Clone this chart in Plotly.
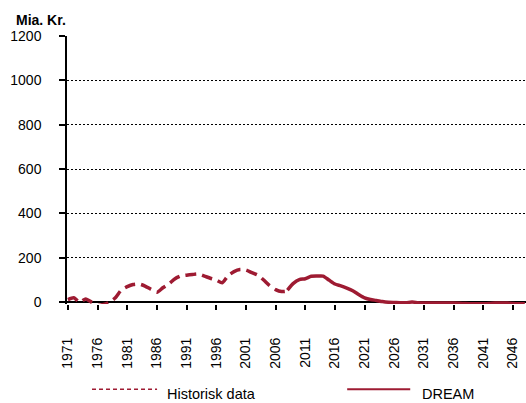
import plotly.graph_objects as go

# Historical series (dashed) and DREAM projection (solid), billions DKK
hist_years = list(range(1971, 2009))
hist_vals = [12, 20, 0, 15, 0, -15, -10, 0, 20, 55,
             70, 80, 82, 73, 58, 45, 65, 82, 105, 118,
             122, 125, 127, 118, 108, 100, 88, 120, 138, 147,
             145, 133, 122, 100, 75, 57, 48, 50]

dream_years = list(range(2008, 2049))
dream_vals = [55, 85, 102, 106, 117, 118, 118, 100, 82, 74,
              64, 52, 35, 20, 12, 8, 3, 0, -1, -2,
              -2, 1, -2, -3, -3, -3, -3, -4, -4, -5,
              -6, -7, -7, -7, -6, -4, -3, -4, -6, -7,
              -7]

x_ticks = list(range(1971, 2047, 5))
y_ticks = [0, 200, 400, 600, 800, 1000, 1200]

RED = "#9E1B32"
FONT = "Liberation Sans, Arial, sans-serif"

W, H = 526, 403
L, R_EDGE = 67.0, 525.7
TOP, BOT = 35.7, 304.5

fig = go.Figure()
fig.add_trace(go.Scatter(
    x=hist_years, y=hist_vals, mode="lines", name="Historisk data",
    line=dict(color=RED, width=3.5, dash="11px,6px", shape="spline", smoothing=0.6),
))
fig.add_trace(go.Scatter(
    x=dream_years, y=dream_vals, mode="lines", name="DREAM",
    line=dict(color=RED, width=3.5, shape="spline", smoothing=0.6),
))


def px_x(px):
    return (px - L) / (R_EDGE - L)


def px_y(py):
    return (BOT - py) / (BOT - TOP)


# hand-built legend below the axis labels
leg_y = px_y(390)
fig.add_shape(type="line", xref="paper", yref="paper",
              x0=px_x(92), x1=px_x(157), y0=leg_y, y1=leg_y,
              line=dict(color=RED, width=1.5, dash="4px,3px"))
fig.add_shape(type="line", xref="paper", yref="paper",
              x0=px_x(347), x1=px_x(410), y0=leg_y, y1=leg_y,
              line=dict(color=RED, width=2))
fig.add_annotation(text="Historisk data", xref="paper", yref="paper",
                   x=px_x(165), y=px_y(395), xanchor="left", yanchor="middle",
                   showarrow=False, font=dict(size=14.5, color="black", family=FONT))
fig.add_annotation(text="DREAM", xref="paper", yref="paper",
                   x=px_x(420), y=px_y(395), xanchor="left", yanchor="middle",
                   showarrow=False, font=dict(size=14.5, color="black", family=FONT))

# unit label above the y axis
fig.add_annotation(text="<b>Mia. Kr.</b>", xref="paper", yref="paper",
                   x=px_x(15), y=px_y(19.5), xanchor="left", yanchor="middle",
                   showarrow=False, borderpad=0,
                   font=dict(size=14, color="black", family=FONT))

fig.update_layout(
    width=W, height=H,
    margin=dict(l=L, r=W - R_EDGE, t=TOP, b=H - BOT, pad=0),
    paper_bgcolor="white", plot_bgcolor="white",
    showlegend=False,
    font=dict(family=FONT, size=14, color="black"),
)
fig.update_xaxes(
    range=[1970.85, 2048.2],
    tickmode="array", tickvals=x_ticks, ticktext=[str(v) for v in x_ticks],
    tickangle=-90, ticks="outside", ticklen=5, tickwidth=1.5, tickcolor="black",
    ticklabelstandoff=22,
    showline=False, showgrid=False, zeroline=False,
    tickfont=dict(size=14, family=FONT, color="black"),
)
fig.update_yaxes(
    range=[-8, 1200],
    tickmode="array", tickvals=y_ticks,
    ticks="outside", ticklen=6, tickwidth=1.5, tickcolor="black",
    ticklabelstandoff=15,
    showline=True, linecolor="black", linewidth=1.5,
    showgrid=True, gridcolor="black", gridwidth=1.3, griddash="2px,2px",
    zeroline=True, zerolinecolor="black", zerolinewidth=1.5,
    tickfont=dict(size=14, family=FONT, color="black"),
)

fig.write_html("out.html")
